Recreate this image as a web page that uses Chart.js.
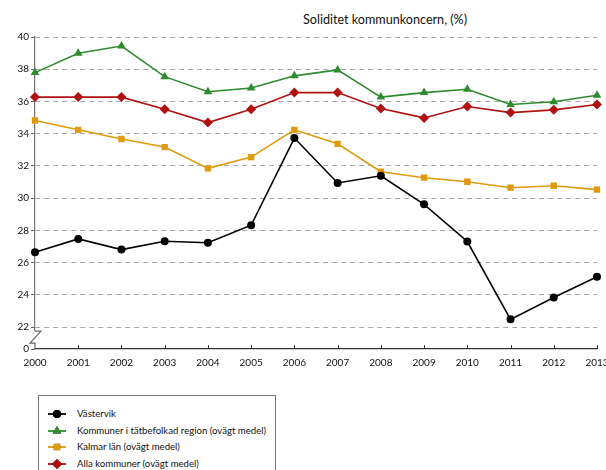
<!DOCTYPE html>
<html>
<head>
<meta charset="utf-8">
<script src="https://cdn.jsdelivr.net/npm/chart.js@4"></script>
<style>
    html, body { margin: 0; padding: 0; background: #fff; overflow: hidden; }
    body { width: 606px; height: 470px; position: relative; font-family: "Lato", "DejaVu Sans", sans-serif; }
    #wrap { position: absolute; left: 0; top: 0; width: 620px; height: 380px; }
    #title { position: absolute; left: 303px; top: 12px; font-size: 12.6px; color: #111; white-space: nowrap; }
    #legend { position: absolute; left: 38px; top: 395px; width: 238px; height: 90px; border: 1px solid #777; box-sizing: border-box; }
    .leg-row { position: absolute; left: 0; height: 14px; font-size: 9.6px; color: #111; white-space: nowrap; }
    .leg-row canvas { position: absolute; left: 8px; top: 0; }
    .leg-row span { position: absolute; left: 38px; top: 1px; }
</style>
</head>
<body>
<div id="title">Soliditet kommunkoncern, (%)</div>
<div id="wrap"><canvas id="chart" width="620" height="380"></canvas></div>
<div id="legend"></div>

<script>
// Data
const years = ['2000', '2001', '2002', '2003', '2004', '2005', '2006', '2007', '2008', '2009', '2010', '2011', '2012', '2013'];
const vastervik = [26.64, 27.47, 26.81, 27.33, 27.23, 28.32, 33.73, 30.94, 31.39, 29.62, 27.31, 22.48, 23.84, 25.12];
const tatbefolkad = [37.79, 38.99, 39.44, 37.54, 36.6, 36.84, 37.59, 37.96, 36.27, 36.55, 36.76, 35.81, 35.98, 36.39];
const kalmarLan = [34.82, 34.24, 33.67, 33.17, 31.85, 32.55, 34.24, 33.37, 31.64, 31.27, 31.02, 30.65, 30.77, 30.53];
const allaKommuner = [36.27, 36.27, 36.27, 35.52, 34.69, 35.52, 36.55, 36.55, 35.56, 34.98, 35.69, 35.31, 35.48, 35.81];
const yTicks = [22, 24, 26, 28, 30, 32, 34, 36, 38, 40];

// bottom of axis is shown as "0" below a break
const Y_MIN = 20.64;

const series = [
    { label: 'Västervik', data: vastervik, color: '#000000', point: 'circle', radius: 4 },
    { label: 'Kommuner i tätbefolkad region (ovägt medel)', data: tatbefolkad, color: '#2e8b2e', point: 'triangle', radius: 5 },
    { label: 'Kalmar län (ovägt medel)', data: kalmarLan, color: '#e09a0c', point: 'rect', radius: 4.5 },
    { label: 'Alla kommuner (ovägt medel)', data: allaKommuner, color: '#b01010', point: 'rectRot', radius: 5 }
];

// Axis break and upward x tick marks
const axisExtras = {
    id: 'axisExtras',
    afterDraw(chart) {
        const ctx = chart.ctx;
        const x = chart.scales.x;
        const y = chart.scales.y;
        const left = chart.chartArea.left;
        const bottom = chart.chartArea.bottom;
        ctx.save();
        // x tick marks
        ctx.strokeStyle = '#333';
        ctx.lineWidth = 1;
        ctx.beginPath();
        x.ticks.forEach((t, i) => {
            const px = Math.round(x.getPixelForTick(i)) + 0.5;
            ctx.moveTo(px, bottom);
            ctx.lineTo(px, bottom - 4);
        });
        ctx.stroke();
        // break in y axis
        const y22 = y.getPixelForValue(22);
        ctx.fillStyle = '#fff';
        ctx.fillRect(left - 2, y22 + 4, 4, bottom - y22 - 5);
        ctx.strokeStyle = '#666';
        ctx.lineWidth = 1.2;
        ctx.beginPath();
        ctx.moveTo(left, y22 + 4);
        ctx.lineTo(left + 6, y22 + 4);
        ctx.lineTo(left - 5, y22 + 16);
        ctx.lineTo(left, y22 + 16);
        ctx.lineTo(left, bottom);
        ctx.stroke();
        ctx.restore();
    }
};

const ctx = document.getElementById('chart').getContext('2d');
const chart = new Chart(ctx, {
    type: 'line',
    data: {
        labels: years,
        datasets: series.map(s => ({
            label: s.label,
            data: s.data,
            borderColor: s.color,
            backgroundColor: s.color,
            borderWidth: 1.6,
            pointStyle: s.point,
            pointRadius: s.radius,
            pointBorderWidth: 0,
            tension: 0
        }))
    },
    options: {
        responsive: false,
        animation: false,
        events: [],
        layout: { padding: { top: 37, right: 23, left: 0, bottom: 0 } },
        plugins: {
            legend: { display: false },
            title: { display: false },
            tooltip: { enabled: false }
        },
        scales: {
            x: {
                offset: false,
                afterFit(scale) { scale.height = 31; },
                grid: { display: false },
                border: { display: true, color: '#333', width: 1.2 },
                ticks: {
                    color: '#111',
                    font: { family: 'Lato', size: 10 },
                    padding: 0,
                    maxRotation: 0,
                    autoSkip: false
                }
            },
            y: {
                min: Y_MIN,
                max: 40,
                afterFit(scale) { scale.width = 35; },
                afterBuildTicks(scale) {
                    scale.ticks = [Y_MIN].concat(yTicks).map(v => ({ value: v }));
                },
                grid: {
                    color: ctx => ctx.tick && ctx.tick.value === Y_MIN ? 'rgba(0,0,0,0)' : '#a8a8a8',
                    tickColor: '#666',
                    tickLength: 4,
                    tickBorderDash: [],
                    lineWidth: 1
                },
                // in v4 border.dash sets the dash of the grid lines
                border: { display: true, color: '#777', width: 1.2, dash: [5, 4] },
                ticks: {
                    color: '#111',
                    font: { family: 'Lato', size: 10 },
                    padding: 2,
                    callback: v => v === Y_MIN ? '0' : String(v)
                }
            }
        }
    },
    plugins: [axisExtras]
});

// Legend
const legend = document.getElementById('legend');
series.forEach((s, i) => {
    const row = document.createElement('div');
    row.className = 'leg-row';
    row.style.top = (11 + i * 16.5) + 'px';
    row.style.width = '236px';
    const c = document.createElement('canvas');
    c.width = 20; c.height = 14;
    const g = c.getContext('2d');
    g.strokeStyle = s.color;
    g.lineWidth = 1.8;
    g.beginPath();
    g.moveTo(1, 7); g.lineTo(19, 7);
    g.stroke();
    Chart.helpers.drawPoint(g, { pointStyle: s.point, radius: s.radius, borderWidth: 0 }, 10, 7);
    g.fillStyle = s.color;
    g.fill();
    row.appendChild(c);
    const t = document.createElement('span');
    t.textContent = s.label;
    row.appendChild(t);
    legend.appendChild(row);
});
</script>
</body>
</html>
